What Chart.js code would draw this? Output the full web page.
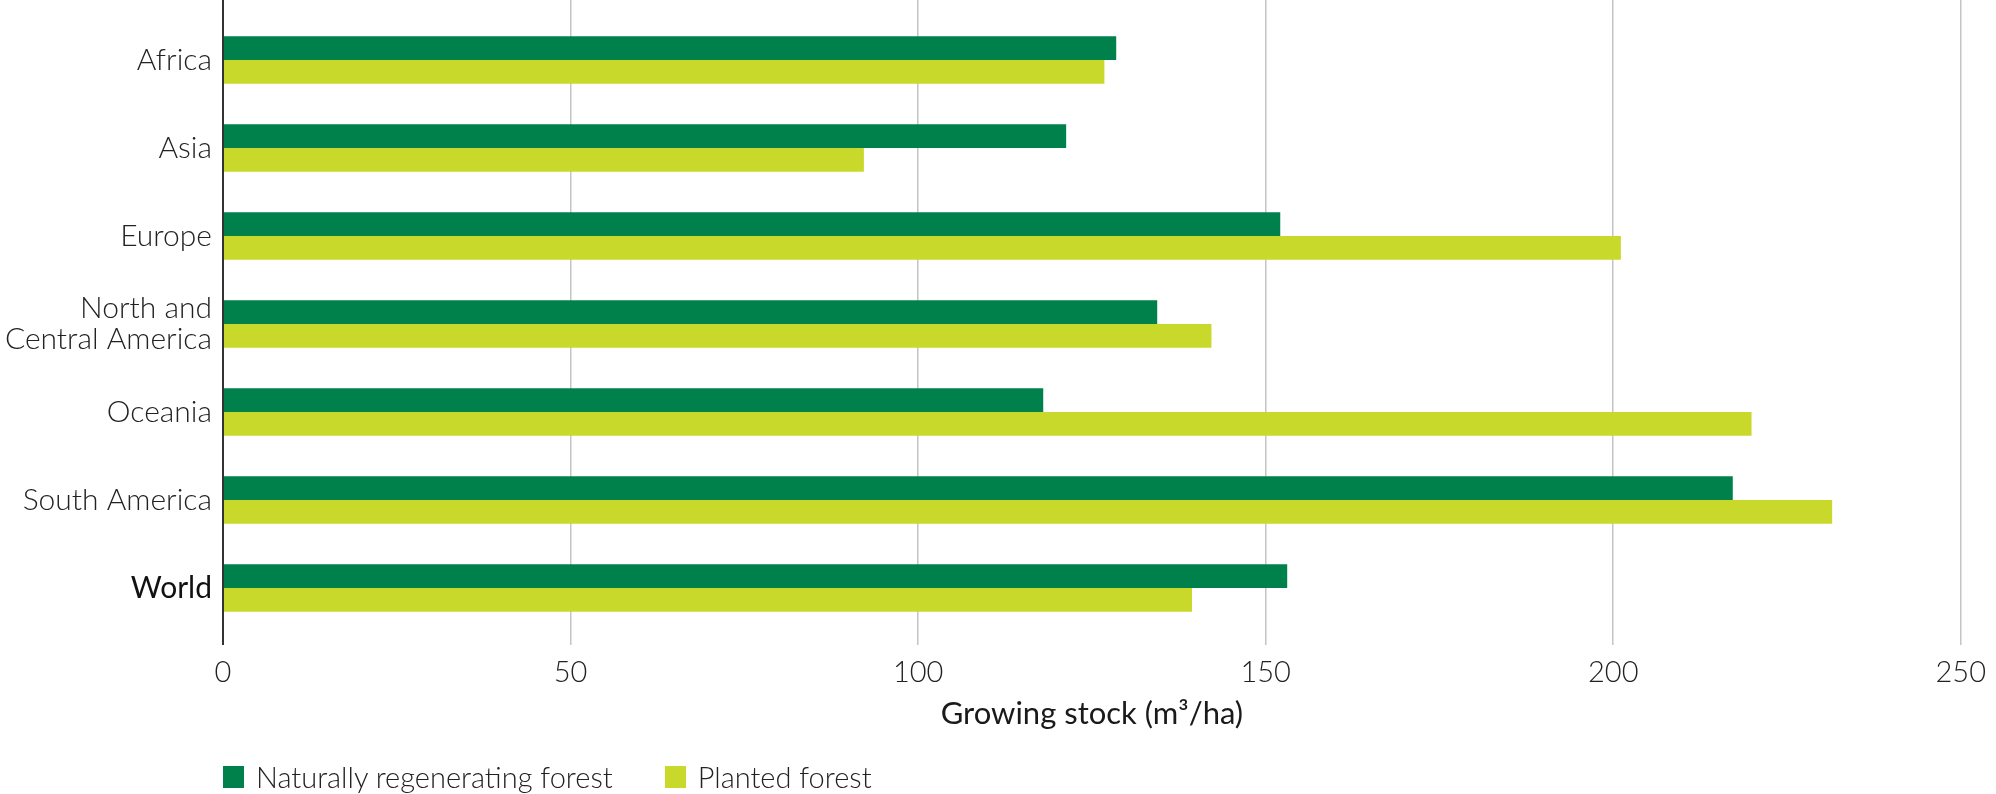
<!DOCTYPE html>
<html>
<head>
<meta charset="utf-8">
<script src="https://cdn.jsdelivr.net/npm/chart.js@4/dist/chart.umd.min.js"></script>
<style>
  html, body { margin: 0; padding: 0; background: #fff; }
  #wrap { position: relative; width: 1996px; height: 794px; overflow: hidden; }
  #legend { position: absolute; left: 223px; top: 762px; display: flex; align-items: center;
    font-family: "Lato", sans-serif; font-weight: 300; font-size: 29px; line-height: 30px; color: #222; }
  .item { display: flex; align-items: center; margin-right: 52px; }
  .box { width: 21px; height: 22px; margin-right: 12px; }
</style>
</head>
<body>
<div id="wrap">
  <canvas id="forestChart" width="1996" height="794"></canvas>
  <div id="legend"></div>
</div>
<script>
// Growing stock by region, naturally regenerating vs planted forest

// --- data ---
const regions = ["Africa", "Asia", "Europe", ["North and", "Central America"], "Oceania", "South America", "World"];
const naturallyRegenerating = [128.5, 121.3, 152.1, 134.4, 118.0, 217.2, 153.1];
const plantedForest = [126.8, 92.2, 201.1, 142.2, 219.9, 231.5, 139.4];
const seriesNames = ["Naturally regenerating forest", "Planted forest"];
const xMin = 0;
const xMax = 250;
const xStep = 50;
const axisTitle = "Growing stock (m\u00b3/ha)";

const darkGreen = "#00804a";
const lightGreen = "#c8d92b";
const gridColor = (ctx) => (ctx.tick && ctx.tick.value === 0 ? "#333333" : "#c4c4c4");
const gridWidth = (ctx) => (ctx.tick && ctx.tick.value === 0 ? 2 : 1.5);

Chart.defaults.font.family = "Lato, sans-serif";
Chart.defaults.color = "#222";

const ctx = document.getElementById("forestChart").getContext("2d");
new Chart(ctx, {
  type: "bar",
  data: {
    labels: regions,
    datasets: [
      { label: seriesNames[0], data: naturallyRegenerating, backgroundColor: darkGreen },
      { label: seriesNames[1], data: plantedForest, backgroundColor: lightGreen },
    ],
  },
  options: {
    indexAxis: "y",
    responsive: false,
    devicePixelRatio: 1,
    animation: false,
    categoryPercentage: 0.54,
    barPercentage: 1.0,
    layout: { padding: { top: 0, right: 25, bottom: 61, left: 0 } },
    plugins: { legend: { display: false }, tooltip: { enabled: false } },
    scales: {
      x: {
        type: "linear",
        position: "bottom",
        min: xMin,
        max: xMax,
        ticks: { stepSize: xStep, padding: 10, font: { size: 29, weight: 300 }, color: "#222" },
        grid: { color: gridColor, lineWidth: gridWidth, drawTicks: true, tickLength: 13 },
        border: { display: false },
        title: { display: true, text: axisTitle, font: { size: 31, weight: 400 }, color: "#1a1a1a", padding: { top: 0, bottom: 0 } },
        afterFit: (scale) => { scale.height = 101; },
      },
      x2: {
        type: "linear",
        position: "top",
        min: xMin,
        max: xMax,
        ticks: { stepSize: xStep, display: false },
        grid: { color: gridColor, lineWidth: gridWidth, drawOnChartArea: false, drawTicks: true, tickLength: 16 },
        border: { display: false },
        afterFit: (scale) => { scale.height = 16; },
      },
      y: {
        type: "category",
        grid: { display: false, drawTicks: false },
        border: { display: true, color: "#333333", width: 2 },
        ticks: {
          padding: 11,
          color: (c) => (c.index === regions.length - 1 ? "#111" : "#222"),
          font: (c) => ({ size: 30, weight: c.index === regions.length - 1 ? 400 : 300, lineHeight: 1.05 }),
        },
        afterFit: (scale) => {
          scale.width = 223;
          scale.paddingTop = 0;
          scale.paddingBottom = 0;
        },
      },
    },
  },
});

// --- legend ---
const legendEl = document.getElementById("legend");
[darkGreen, lightGreen].forEach((col, i) => {
  const item = document.createElement("div");
  item.className = "item";
  const box = document.createElement("span");
  box.className = "box";
  box.style.background = col;
  const txt = document.createElement("span");
  txt.textContent = seriesNames[i];
  item.appendChild(box);
  item.appendChild(txt);
  legendEl.appendChild(item);
});
</script>
</body>
</html>
